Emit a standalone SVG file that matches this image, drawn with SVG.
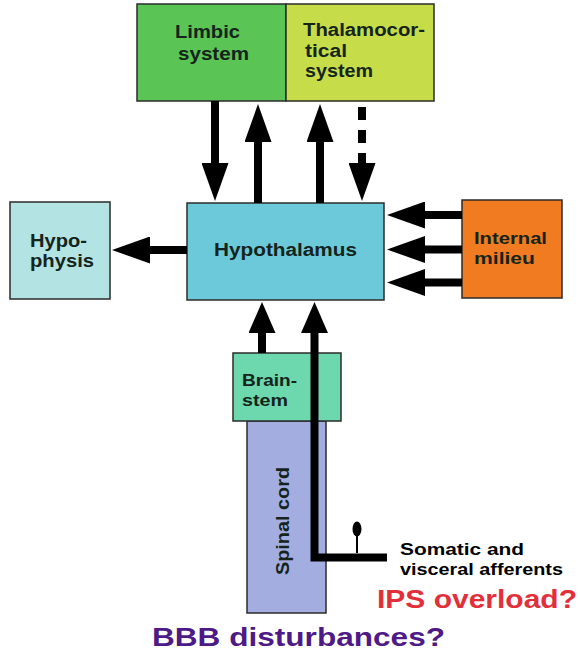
<svg xmlns="http://www.w3.org/2000/svg" width="580" height="659" viewBox="0 0 580 659">
<style>
.box{stroke:#2b2b2b;stroke-width:1.5}
.t{font-family:"Liberation Sans",Arial,sans-serif;font-weight:bold;font-size:18px;fill:#15241b}
.s{font-size:16.5px}
.sh{stroke:#000;stroke-width:8;fill:none}
</style>
<defs>
<marker id="ahL" markerUnits="userSpaceOnUse" viewBox="0 0 38 27" markerWidth="38" markerHeight="27" refX="0" refY="13.5" orient="auto"><path d="M0,0 L38,13.5 L0,27 Z" fill="#000"/></marker>
<marker id="ahS" markerUnits="userSpaceOnUse" viewBox="0 0 31 27" markerWidth="31" markerHeight="27" refX="0" refY="13.5" orient="auto"><path d="M0,0 L31,13.5 L0,27 Z" fill="#000"/></marker>
</defs>
<rect width="580" height="659" fill="#fff"/>

<g id="limbic">
<rect class="box" x="137" y="4" width="149" height="97" fill="#5ac554"/>
<text class="t" x="175" y="38" textLength="65" lengthAdjust="spacingAndGlyphs">Limbic</text>
<text class="t" x="178" y="60" textLength="71" lengthAdjust="spacingAndGlyphs">system</text>
</g>
<g id="thalamocortical">
<rect class="box" x="286" y="4" width="148" height="97" fill="#c6dc48"/>
<text class="t" x="303" y="36" textLength="122" lengthAdjust="spacingAndGlyphs">Thalamocor-</text>
<text class="t" x="305" y="57" textLength="42" lengthAdjust="spacingAndGlyphs">tical</text>
<text class="t" x="305" y="77" textLength="68" lengthAdjust="spacingAndGlyphs">system</text>
</g>
<g id="hypophysis">
<rect class="box" x="10" y="202" width="100" height="97" fill="#b3e3e3"/>
<text class="t" x="30" y="247" textLength="57" lengthAdjust="spacingAndGlyphs">Hypo-</text>
<text class="t" x="30" y="267" textLength="64" lengthAdjust="spacingAndGlyphs">physis</text>
</g>
<g id="hypothalamus">
<rect class="box" x="187" y="203" width="197" height="97" fill="#6cc9da"/>
<text class="t" x="214" y="256" textLength="143" lengthAdjust="spacingAndGlyphs">Hypothalamus</text>
</g>
<g id="internal-milieu">
<rect class="box" x="462" y="200" width="100" height="98" fill="#f07b20"/>
<text class="t s" x="474" y="244" textLength="73" lengthAdjust="spacingAndGlyphs">Internal</text>
<text class="t s" x="474" y="263.5" textLength="61" lengthAdjust="spacingAndGlyphs">milieu</text>
</g>
<g id="spinal-cord">
<rect class="box" x="247" y="421" width="79" height="192" fill="#a3ade0"/>
<text class="t" transform="translate(289,521) rotate(-90)" x="0" y="0" text-anchor="middle" textLength="108" lengthAdjust="spacingAndGlyphs">Spinal cord</text>
</g>
<g id="brainstem">
<rect class="box" x="233" y="353" width="108" height="68" fill="#6dd7ae"/>
<text class="t s" x="242" y="386" textLength="55" lengthAdjust="spacingAndGlyphs">Brain-</text>
<text class="t s" x="242" y="405.5" textLength="46" lengthAdjust="spacingAndGlyphs">stem</text>
</g>

<g id="connectors">
<line class="sh" x1="215" y1="101" x2="215" y2="163" marker-end="url(#ahL)"/>
<line class="sh" x1="258" y1="203" x2="258" y2="142" marker-end="url(#ahL)"/>
<line class="sh" x1="320" y1="203" x2="320" y2="142" marker-end="url(#ahL)"/>
<line class="sh" x1="362" y1="107" x2="362" y2="163" stroke-dasharray="13,10" marker-end="url(#ahL)"/>
<line class="sh" x1="187" y1="250" x2="150" y2="250" marker-end="url(#ahL)"/>
<line class="sh" x1="462" y1="215" x2="425" y2="215" marker-end="url(#ahL)"/>
<line class="sh" x1="462" y1="249.5" x2="425" y2="249.5" marker-end="url(#ahL)"/>
<line class="sh" x1="462" y1="282.5" x2="425" y2="282.5" marker-end="url(#ahL)"/>
<line class="sh" x1="262" y1="353" x2="262" y2="333" marker-end="url(#ahS)"/>
<path class="sh" d="M387,557.5 H314.5 V333" stroke-width="7.5" stroke-linejoin="miter" marker-end="url(#ahS)"/>
<line x1="357" y1="553" x2="357" y2="535" stroke="#000" stroke-width="2"/>
<ellipse cx="357" cy="529" rx="4.5" ry="7.5" fill="#000"/>
</g>

<g id="labels">
<text class="t" x="400" y="555" textLength="124" lengthAdjust="spacingAndGlyphs" style="font-size:17px;fill:#000">Somatic and</text>
<text class="t" x="400" y="575" textLength="163" lengthAdjust="spacingAndGlyphs" style="font-size:17px;fill:#000">visceral afferents</text>
<text class="t" x="377" y="608" textLength="200" lengthAdjust="spacingAndGlyphs" style="font-size:25px;fill:#e2303b">IPS overload?</text>
<text class="t" x="152" y="646" textLength="293" lengthAdjust="spacingAndGlyphs" style="font-size:25px;fill:#4d1a87">BBB disturbances?</text>
</g>
</svg>
